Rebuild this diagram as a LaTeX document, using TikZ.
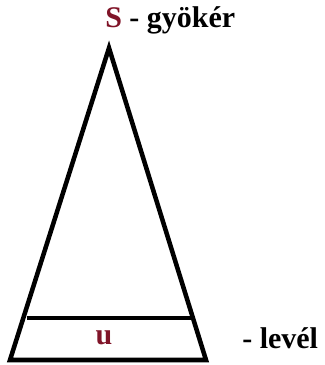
\documentclass[tikz,border=0pt]{standalone}
\usepackage{fontspec}
\setmainfont{Liberation Serif}
\definecolor{gyokerpiros}{RGB}{128,20,40}
\begin{document}
\begin{tikzpicture}[x = 0.75pt, y = -0.75pt, line width = 3.4pt, font = \bfseries\fontsize{22.5}{26}\selectfont]
	\useasboundingbox (0,0) rectangle (325,365);
	\coordinate (csucs) at (109,48);
	\coordinate (bal) at (10,360);
	\coordinate (jobb) at (206,360);
	\coordinate (szintbal) at (27,318);
	\coordinate (szintjobb) at (191,318);
	\draw [line join = miter] (bal) -- (csucs) -- (jobb) -- cycle;
	\draw (szintbal) -- (szintjobb);
	\node (gyoker) [anchor = base west, inner sep = 0pt] at (103,27) {\textcolor{gyokerpiros}{S} - gyökér};
	\node (u) [text = gyokerpiros] at (104,338) {u};
	\node (level) [anchor = base west, inner sep = 0pt] at (240,348) {- levél};
\end{tikzpicture}
\end{document}
